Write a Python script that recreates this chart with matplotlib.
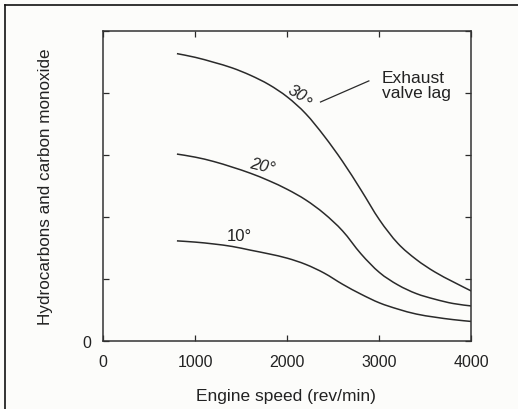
import numpy as np
import matplotlib.pyplot as plt
from matplotlib.lines import Line2D
from matplotlib.path import Path
from matplotlib.patches import PathPatch

plt.rcParams['font.family'] = ['Liberation Sans', 'DejaVu Sans']

# engine speed (rev/min) and emissions
speed = [800, 1000, 1200, 1400, 1600, 1800, 2000, 2200, 2400, 2600,
         2800, 3000, 3200, 3400, 3600, 3800, 4000]
lag30 = [4.63, 4.57, 4.49, 4.40, 4.28, 4.13, 3.93, 3.66, 3.30, 2.89,
         2.43, 1.95, 1.57, 1.31, 1.11, 0.95, 0.80]
lag20 = [3.01, 2.96, 2.89, 2.80, 2.70, 2.58, 2.44, 2.27, 2.05, 1.77,
         1.40, 1.10, 0.90, 0.76, 0.67, 0.60, 0.56]
lag10 = [1.61, 1.59, 1.56, 1.52, 1.46, 1.40, 1.33, 1.23, 1.09, 0.91,
         0.75, 0.61, 0.51, 0.43, 0.38, 0.34, 0.31]

xticks = [0, 1000, 2000, 3000, 4000]
yticks = [0, 1, 2, 3, 4, 5]
ytick_labels = ['0', '', '', '', '', '']

bg = '#fcfcfa'
ink = '#2a2a2a'


def smooth_path(x, y):
    # catmull-rom through the read points, drawn as bezier segments
    p = np.column_stack([x, y]).astype(float)
    ext = np.vstack([p[0], p, p[-1]])
    verts = [p[0]]
    codes = [Path.MOVETO]
    for i in range(len(p) - 1):
        p0, p1, p2, p3 = ext[i], ext[i + 1], ext[i + 2], ext[i + 3]
        verts += [p1 + (p2 - p0) / 6, p2 - (p3 - p1) / 6, p2]
        codes += [Path.CURVE4] * 3
    return Path(verts, codes)


fig = plt.figure(figsize=(5.18, 4.10), dpi=100, facecolor=bg)
ax = fig.add_axes([0.1994, 0.1666, 0.7108, 0.7561], facecolor=bg)

for y in (lag30, lag20, lag10):
    ax.add_patch(PathPatch(smooth_path(speed, y), fill=False,
                           edgecolor=ink, lw=1.1))

ax.set_xlim(0, 4000)
ax.set_ylim(0, 5)
ax.set_xticks(xticks)
ax.set_yticks(yticks)
ax.set_yticklabels(ytick_labels)
ax.tick_params(direction='in', length=4.5, width=0.9, color=ink,
               top=True, right=True, labelsize=11.5, labelcolor='#222222')
ax.tick_params(axis='x', pad=9.5)
ax.tick_params(axis='y', pad=9)
for s in ax.spines.values():
    s.set_color('#333333')
    s.set_linewidth(1.1)

ax.set_xlabel('Engine speed (rev/min)', fontsize=12.5, color='#222222')
ax.set_ylabel('Hydrocarbons and carbon monoxide', fontsize=12.3, color='#222222')
ax.xaxis.set_label_coords(0.496, -0.153)
ax.yaxis.set_label_coords(-0.137, 0.5)

# curve labels
ax.text(2150, 3.96, '30\u2218', rotation=-30, fontsize=12, color='#222222',
        ha='center', va='center', style='italic')
ax.text(1725, 2.82, '20°', rotation=-13, fontsize=12, color='#222222',
        ha='center', va='center', style='italic')
ax.text(1475, 1.70, '10°', fontsize=12, color='#222222',
        ha='center', va='center')
ax.plot([2360, 2885], [3.85, 4.19], color=ink, lw=0.9)
ax.text(3026, 4.12, 'Exhaust\nvalve lag', fontsize=12.5, color='#222222',
        ha='left', va='center', linespacing=1.0)

# scan frame
fig.add_artist(Line2D([4.5 / 518, 4.5 / 518], [0, 1 - 6 / 410],
                      transform=fig.transFigure, color='#111111', lw=1.2))
fig.add_artist(Line2D([4.5 / 518, 1], [1 - 6 / 410, 1 - 6 / 410],
                      transform=fig.transFigure, color='#111111', lw=1.2))

fig.savefig('out.png', dpi=100, facecolor=bg)
